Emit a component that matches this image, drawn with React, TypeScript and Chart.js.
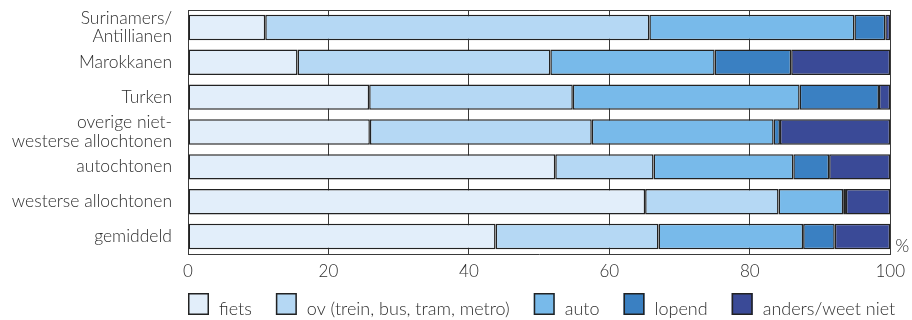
import React, { useEffect, useRef } from "react";
import { Chart, registerables } from "chart.js";

Chart.register(...registerables);

const categories: (string | string[])[] = [
  ["Surinamers/", "Antillianen"],
  "Marokkanen",
  "Turken",
  ["overige niet-", "westerse allochtonen"],
  "autochtonen",
  "westerse allochtonen",
  "gemiddeld",
];

const seriesLabels = ["fiets", "ov (trein, bus, tram, metro)", "auto", "lopend", "anders/weet niet"];
const seriesColors = ["#E2EEFA", "#B5D8F4", "#78BAEA", "#3A80C2", "#3A4A97"];

const fiets = [11.0, 15.6, 25.8, 25.9, 52.3, 65.1, 43.8];
const ov = [54.7, 36.0, 29.0, 31.6, 14.0, 19.0, 23.2];
const auto = [29.2, 23.4, 32.3, 25.9, 19.9, 9.2, 20.6];
const lopend = [4.4, 10.9, 11.3, 0.9, 5.1, 0.4, 4.5];
const anders = [0.7, 14.1, 1.6, 15.7, 8.7, 6.3, 7.9];

const xTicks = [0, 20, 40, 60, 80, 100];

const FONT = "Lato, 'Noto Sans', sans-serif";
const WEIGHT = "300";
const TEXT = "#2e2e2e";
const LINE = "#3a3a3a";

const extrasPlugin = {
  id: "extras",
  afterDraw(chart: any) {
    const { ctx, chartArea } = chart;
    ctx.save();
    // top border line
    ctx.strokeStyle = LINE;
    ctx.lineWidth = 1;
    ctx.beginPath();
    ctx.moveTo(chartArea.left, chartArea.top + 0.5);
    ctx.lineTo(chartArea.right, chartArea.top + 0.5);
    ctx.stroke();
    // percent sign
    ctx.fillStyle = TEXT;
    ctx.font = `${WEIGHT} 18px ${FONT}`;
    ctx.textAlign = "left";
    ctx.textBaseline = "middle";
    ctx.fillText("%", chartArea.right + 5, chartArea.bottom - 8);
    // legend
    const boxW = 21;
    const boxH = 22;
    const textGap = 10;
    const itemGap = 24;
    const top = chartArea.bottom + 39;
    ctx.font = `${WEIGHT} 18px ${FONT}`;
    let x = chartArea.left;
    chart.data.datasets.forEach((ds: any) => {
      ctx.fillStyle = ds.backgroundColor;
      ctx.fillRect(x, top, boxW, boxH);
      ctx.strokeStyle = "#222";
      ctx.lineWidth = 1.5;
      ctx.strokeRect(x + 0.75, top + 0.75, boxW - 1.5, boxH - 1.5);
      ctx.fillStyle = TEXT;
      ctx.textBaseline = "alphabetic";
      ctx.fillText(ds.label, x + boxW + textGap, top + boxH);
      x += boxW + textGap + ctx.measureText(ds.label).width + itemGap;
    });
    ctx.restore();
  },
};

export default function App() {
  const ref = useRef<HTMLCanvasElement | null>(null);

  useEffect(() => {
    document.body.style.margin = "0";
    if (!ref.current) return;
    const values = [fiets, ov, auto, lopend, anders];
    const chart = new Chart(ref.current, {
      type: "bar",
      data: {
        labels: categories,
        datasets: values.map((d, i) => ({
          label: seriesLabels[i],
          data: d,
          backgroundColor: seriesColors[i],
          borderColor: "#222",
          borderWidth: 1.5,
          borderSkipped: false,
          categoryPercentage: 1,
          barPercentage: 0.73,
        })),
      },
      options: {
        indexAxis: "y",
        animation: false,
        responsive: false,
        maintainAspectRatio: false,
        layout: { padding: { top: 10, right: 21, left: 0, bottom: 0 } },
        plugins: { legend: { display: false }, tooltip: { enabled: false } },
        scales: {
          x: {
            stacked: true,
            min: 0,
            max: 100,
            afterBuildTicks: (s: any) => {
              s.ticks = xTicks.map((v) => ({ value: v }));
            },
            afterFit: (s: any) => {
              s.height = 66;
            },
            grid: { color: LINE, lineWidth: 1, drawTicks: false },
            border: { color: LINE, width: 1 },
            ticks: { padding: 7, color: TEXT, font: { family: FONT, size: 17, weight: WEIGHT } },
          },
          y: {
            stacked: true,
            afterFit: (s: any) => {
              s.width = 188;
              s.paddingTop = 0;
              s.paddingBottom = 0;
            },
            grid: { display: false, drawTicks: false },
            border: { color: LINE, width: 1 },
            ticks: {
              autoSkip: false,
              padding: 16,
              color: TEXT,
              font: { family: FONT, size: 17.5, weight: WEIGHT, lineHeight: 1.06 },
            },
          },
        },
      },
      plugins: [extrasPlugin],
    });
    return () => chart.destroy();
  }, []);

  return (
    <div style={{ width: 912, height: 320 }}>
      <canvas ref={ref} width={912} height={320} style={{ display: "block" }} />
    </div>
  );
}
